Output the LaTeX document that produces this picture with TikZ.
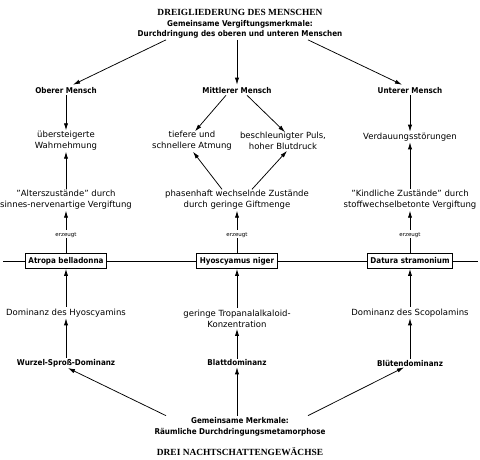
\documentclass[tikz,border=0pt]{standalone}
\usepackage{fontspec}
\setmainfont{DejaVu Sans}
\newfontfamily\titlefont{Liberation Serif}
\newfontfamily\labfont{DejaVu Sans Condensed}
\usetikzlibrary{arrows.meta,calc}
\begin{document}
\begin{tikzpicture}[x=1pt,y=-1pt,
  txt/.style={font=\fontsize{8.5}{10.8}\selectfont, align=center, inner sep=1pt},
  bld/.style={font=\labfont\bfseries\fontsize{8}{10.5}\selectfont, align=center, inner sep=1pt},
  ttl/.style={font=\titlefont\bfseries\fontsize{9.4}{10}\selectfont, inner sep=1pt},
  tiny/.style={font=\fontsize{5.5}{6}\selectfont, inner sep=0.5pt},
  plant/.style={draw, line width=0.9pt, font=\labfont\bfseries\fontsize{8}{10}\selectfont, minimum height=15pt, inner xsep=3pt},
  arr/.style={-{Latex[length=7pt,width=4.2pt]}, line width=0.75pt},
  ln/.style={line width=0.75pt}]
\useasboundingbox (0,0) rectangle (480,459);

\node[ttl] (title) at (240,12) {DREIGLIEDERUNG DES MENSCHEN};
\node[bld] (gem) at (240,29.5) {Gemeinsame Vergiftungsmerkmale:\\Durchdringung des oberen und unteren Menschen};

\node[bld] (ober) at (66,91) {Oberer Mensch};
\node[bld] (mittel) at (237,91) {Mittlerer Mensch};
\node[bld] (unter) at (410,91) {Unterer Mensch};

\node[txt] (wahr) at (66,141) {übersteigerte\\Wahrnehmung};
\node[txt] (atm) at (192,141) {tiefere und\\schnellere Atmung};
\node[txt] (puls) at (283,141) {beschleunigter Puls,\\hoher Blutdruck};
\node[txt] (verd) at (410,137) {Verdauungsstörungen};

\node[txt] (alter) at (66,200) {"Alterszustände" durch\\sinnes-nervenartige Vergiftung};
\node[txt] (phasen) at (237,200) {phasenhaft wechselnde Zustände\\durch geringe Giftmenge};
\node[txt] (kindl) at (410,200) {"Kindliche Zustände" durch\\stoffwechselbetonte Vergiftung};

\node[tiny] (erz1) at (66,235) {erzeugt};
\node[tiny] (erz2) at (237,235) {erzeugt};
\node[tiny] (erz3) at (410,235) {erzeugt};

\node[plant] (atropa) at (66,261) {Atropa belladonna};
\node[plant] (hyos) at (237,261) {Hyoscyamus niger};
\node[plant] (datura) at (410,261) {Datura stramonium};
\coordinate (hl) at (3,261);
\coordinate (hr) at (478,261);

\node[txt] (domh) at (66,313) {Dominanz des Hyoscyamins};
\node[txt] (tropan) at (237,319) {geringe Tropanalalkaloid-\\Konzentration};
\node[txt] (doms) at (410,313) {Dominanz des Scopolamins};

\node[bld] (wurzel) at (66,363) {Wurzel-Sproß-Dominanz};
\node[bld] (blatt) at (237,363) {Blattdominanz};
\node[bld] (blueten) at (410,363) {Blütendominanz};

\node[bld] (gm) at (240,427) {Gemeinsame Merkmale:\\Räumliche Durchdringungsmetamorphose};
\node[ttl] (drei) at (240,452) {DREI NACHTSCHATTENGEWÄCHSE};

% top fan
\draw[arr] ($(gem.south)+(-74,0)$) -- ($(ober.north)+(7,-2)$);
\draw[arr] ($(gem.south)+(-3,0)$) -- ($(mittel.north)+(0,-2)$);
\draw[arr] ($(gem.south)+(68,0)$) -- ($(unter.north)+(-8,-2)$);

% upper man column
\draw[arr] (ober) -- (wahr);
\draw[arr] ($(mittel.south)+(-11,0)$) -- ($(atm.north)+(3,1)$);
\draw[arr] ($(mittel.south)+(10,0)$) -- ($(puls.north)+(2,1)$);
\draw[arr] (unter) -- (verd);

\draw[arr] (alter) -- (wahr);
\draw[arr] ($(phasen.north)+(-15,0)$) -- ($(atm.south)+(1,0)$);
\draw[arr] ($(phasen.north)+(15,0)$) -- ($(puls.south)+(4,0)$);
\draw[arr] (kindl) -- (verd);

\draw[arr] ($(erz1.north)+(0,-2)$) -- (alter);
\draw[arr] ($(erz2.north)+(0,-2)$) -- (phasen);
\draw[arr] ($(erz3.north)+(0,-2)$) -- (kindl);
\draw[ln] (erz1) -- (atropa);
\draw[ln] (erz2) -- (hyos);
\draw[ln] (erz3) -- (datura);

% horizontal line
\draw[ln] (hl) -- (atropa.west);
\draw[ln] (atropa.east) -- (hyos.west);
\draw[ln] (hyos.east) -- (datura.west);
\draw[ln] (datura.east) -- (hr);

% lower part
\draw[arr] ($(domh.north)+(0,-1)$) -- (atropa.south);
\draw[arr] ($(tropan.north)+(0,-1)$) -- (hyos.south);
\draw[arr] ($(doms.north)+(0,-1)$) -- (datura.south);

\draw[arr] (wurzel) -- (domh);
\draw[arr] (blatt) -- (tropan);
\draw[arr] (blueten) -- (doms);

\draw[arr] ($(gm.north)+(-74,-1)$) -- ($(wurzel.south)+(2,0)$);
\draw[arr] ($(gm.north)+(-3,-1)$) -- ($(blatt.south)+(0,0)$);
\draw[arr] ($(gm.north)+(68,-1)$) -- ($(blueten.south)+(-6,0)$);
\end{tikzpicture}
\end{document}
